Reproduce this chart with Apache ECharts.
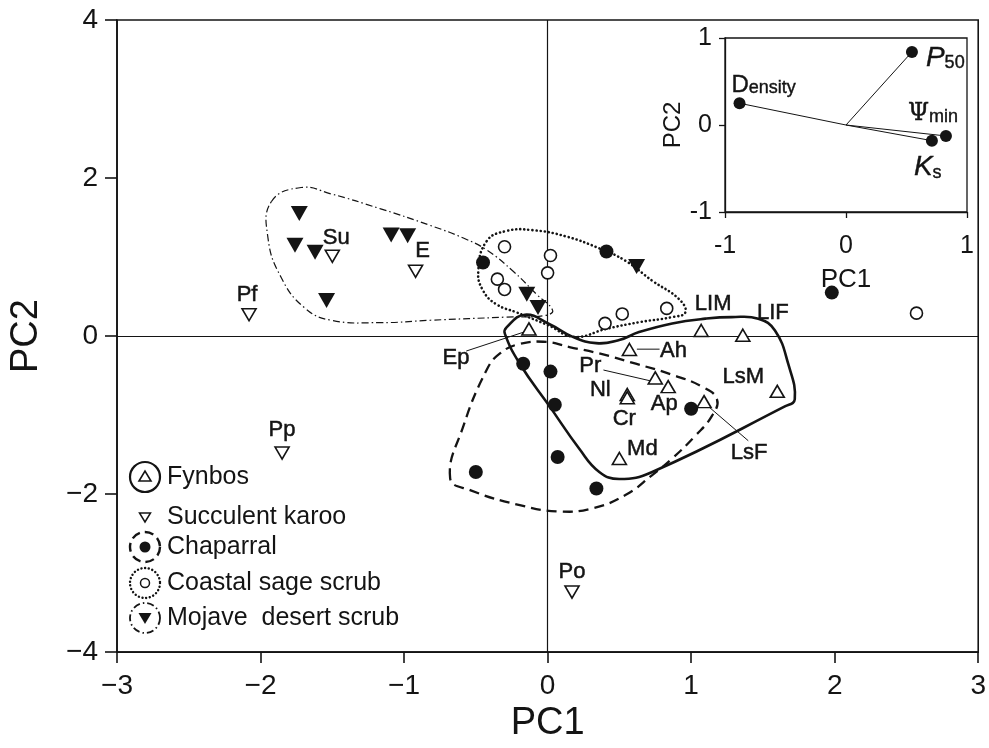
<!DOCTYPE html>
<html><head><meta charset="utf-8">
<script src="https://cdn.jsdelivr.net/npm/echarts@6/dist/echarts.min.js"></script>
<style>html,body{margin:0;padding:0;background:#fff}#c{width:989px;height:748px}</style>
</head><body><div id="c"></div>
<script>
// ---------- DATA ----------
const fynbosNames = ['Ep','Ah','LIM','LIF','Pr','Ap','Nl','Cr','LsM','LsF','Md'];
const fynbosX = [-0.13, 0.57, 1.07, 1.36, 0.75, 0.84, 0.555, 0.555, 1.60, 1.09, 0.50];
const fynbosY = [0.09, -0.17, 0.07, 0.01, -0.53, -0.64, -0.74, -0.78, -0.70, -0.83, -1.55];

const karooNames = ['Pf','Su','E','Pp','Po'];
const karooX = [-2.08, -1.50, -0.92, -1.85, 0.17];
const karooY = [0.27, 1.01, 0.82, -1.48, -3.24];

const chapX = [-0.45, 0.41, -0.17, 0.02, 0.05, 0.07, -0.50, 0.34, 1.00, 1.98];
const chapY = [0.93, 1.07, -0.35, -0.45, -0.87, -1.53, -1.72, -1.93, -0.92, 0.55];

const coastX = [-0.30, 0.02, 0.00, -0.35, -0.30, 0.40, 0.52, 0.83, 2.57];
const coastY = [1.13, 1.02, 0.80, 0.72, 0.59, 0.16, 0.28, 0.35, 0.29];

const mojX = [-1.73, -1.76, -1.62, -1.54, -1.09, -0.975, -0.145, -0.067, 0.62];
const mojY = [1.55, 1.15, 1.06, 0.45, 1.28, 1.27, 0.53, 0.36, 0.88];

// hull outlines (data units)
const hullFynbos = [[-0.286,0.11],[-0.159,0.27],[0.014,0.15],[0.175,-0.01],[0.337,-0.09],[0.499,-0.05],[0.637,0.05],[0.868,0.16],[1.099,0.22],[1.283,0.24],[1.468,0.22],[1.584,0.07],[1.676,-0.35],[1.722,-0.80],[1.653,-0.89],[0.729,-1.72],[0.499,-1.81],[0.36,-1.72],[0.222,-1.43],[0.014,-0.89],[-0.194,-0.35],[-0.298,0.03]];
const hullChap = [[-0.679,-1.80],[-0.587,-1.14],[-0.425,-0.43],[-0.332,-0.22],[-0.194,-0.10],[-0.009,-0.075],[0.152,-0.14],[0.36,-0.22],[0.614,-0.35],[0.868,-0.49],[1.075,-0.64],[1.18,-0.80],[1.145,-1.01],[1.03,-1.26],[0.868,-1.55],[0.729,-1.76],[0.545,-2.01],[0.314,-2.18],[0.083,-2.22],[-0.194,-2.14],[-0.54,-1.95]];
const hullCoast = [[-0.425,1.20],[-0.286,1.33],[-0.102,1.34],[0.13,1.26],[0.36,1.11],[0.545,0.95],[0.729,0.70],[0.914,0.47],[0.96,0.30],[0.868,0.24],[0.637,0.175],[0.407,0.09],[0.187,-0.01],[0.0,0.14],[-0.217,0.30],[-0.355,0.40],[-0.448,0.57],[-0.483,0.82]];
const hullMoj = [[-1.925,1.70],[-1.717,1.88],[-1.51,1.80],[-1.163,1.61],[-0.817,1.40],[-0.587,1.24],[-0.425,1.09],[-0.24,0.82],[-0.078,0.53],[0.035,0.325],[-0.02,0.26],[-0.286,0.24],[-0.817,0.20],[-1.163,0.17],[-1.51,0.20],[-1.695,0.36],[-1.856,0.74],[-1.948,1.24]];

// label leader lines (data units)
const leaders = [
  [[-0.567,-0.19],[-0.166,0.05]],
  [[0.622,-0.166],[0.78,-0.166]],
  [[0.389,-0.43],[0.735,-0.575]],
  [[1.104,-0.866],[1.398,-1.325]]
];

// inset loadings
const loadNames = ['Density','P50','Psimin','Ks'];
const loadX = [-0.88, 0.545, 0.826, 0.71];
const loadY = [0.25, 0.84, -0.126, -0.18];

const xTicks = [-3,-2,-1,0,1,2,3];
const yTicks = [-4,-2,0,2,4];

// ---------- STYLE ----------
const INK = '#141414';
const FONT = '"Liberation Sans", Arial, Helvetica, sans-serif';
const labelOffset = {
  Ep:[-73,29], Ah:[44,1], LIM:[12,-27], LIF:[30,-22], Pr:[-65,-12], Ap:[-4,17],
  Nl:[-27,-5], Cr:[-3,21], LsM:[-34,-14], LsF:[45,51], Md:[23,-10],
  Pf:[-2,-20], Su:[4,-18], E:[7,-20], Pp:[0,-23], Po:[0,-20]
};
const minus = v => (v < 0 ? '\u2212' + Math.abs(v) : String(v));

function labeled(xs, ys, names) {
  return xs.map((x, i) => ({
    value: [x, ys[i]],
    label: { show: true, position: 'inside', formatter: names[i], offset: labelOffset[names[i]],
      fontSize: 22, color: INK, fontFamily: FONT, textBorderWidth: 0.5, textBorderColor: INK, opacity: 1 }
  }));
}
const pts = (xs, ys) => xs.map((x, i) => [x, ys[i]]);

function hullSeries(hull, dash, width, cap) {
  return {
    type: 'custom', xAxisIndex: 0, yAxisIndex: 0, silent: true, z: 1,
    data: hull,
    renderItem: function (params, api) {
      if (params.dataIndex !== 0) return null;
      const p = hull.map(h => api.coord(h));
      return { type: 'polygon', shape: { points: p, smooth: 0.45 },
        style: { fill: 'none', stroke: INK, lineWidth: width, lineDash: dash, lineCap: cap || 'butt' } };
    }
  };
}

const tb = { textBorderColor: INK, textBorderWidth: 0.4 };
const insetRich = {
  D: Object.assign({ fontSize: 24, fontFamily: FONT, color: INK, verticalAlign: 'bottom', lineHeight: 24 }, tb),
  ens: Object.assign({ fontSize: 18, fontFamily: FONT, color: INK, verticalAlign: 'bottom', lineHeight: 20 }, tb),
  big: Object.assign({ fontSize: 28, fontFamily: FONT, color: INK, fontStyle: 'italic', verticalAlign: 'top', lineHeight: 28 }, tb),
  psi: Object.assign({ fontSize: 24, fontFamily: '"DejaVu Serif", serif', color: INK, verticalAlign: 'top', lineHeight: 24 }, tb),
  sub: Object.assign({ fontSize: 18, fontFamily: FONT, color: INK, verticalAlign: 'bottom', lineHeight: 18, padding: [14, 0, 0, 0] }, tb)
};
const insetLabel = {
  Density: { f: '{D|D}{ens|ensity}', pos: [-2, -12] },
  P50: { f: '{big|P}{sub|50}', pos: [20, 12] },
  Psimin: { f: '{psi|\u03A8}{sub|min}', pos: [-32, -16] },
  Ks: { f: '{big|K}{sub|s}', pos: [-12, 33] }
};

const openStyle = { color: '#fff', borderColor: INK, borderWidth: 1.6, opacity: 1 };
const fillStyle = { color: INK, opacity: 1 };

const series = [
  hullSeries(hullMoj, [7, 3, 1.5, 3], 1.2),
  hullSeries(hullCoast, [0.1, 4], 2.6, 'round'),
  hullSeries(hullChap, [10, 6], 2.3),
  hullSeries(hullFynbos, null, 2.6),
  {
    type: 'scatter', name: 'Fynbos', xAxisIndex: 0, yAxisIndex: 0, z: 5,
    symbol: 'triangle', symbolSize: [14, 12], itemStyle: openStyle,
    data: labeled(fynbosX, fynbosY, fynbosNames),
    markLine: { silent: true, symbol: 'none', animation: false,
      lineStyle: { color: INK, width: 1.2, type: 'solid', opacity: 1 }, label: { show: false },
      data: [{ xAxis: 0 }, { yAxis: 0 }] }
  },
  {
    type: 'scatter', name: 'Succulent karoo', xAxisIndex: 0, yAxisIndex: 0, z: 5,
    symbol: 'triangle', symbolSize: [14, 12], symbolRotate: 180, itemStyle: openStyle,
    data: labeled(karooX, karooY, karooNames)
  },
  {
    type: 'scatter', name: 'Chaparral', xAxisIndex: 0, yAxisIndex: 0, z: 5,
    symbol: 'circle', symbolSize: 14, itemStyle: fillStyle,
    data: pts(chapX, chapY)
  },
  {
    type: 'scatter', name: 'Coastal sage scrub', xAxisIndex: 0, yAxisIndex: 0, z: 5,
    symbol: 'circle', symbolSize: 12, itemStyle: openStyle,
    data: pts(coastX, coastY)
  },
  {
    type: 'scatter', name: 'Mojave desert scrub', xAxisIndex: 0, yAxisIndex: 0, z: 5,
    symbol: 'triangle', symbolSize: [17, 15], symbolRotate: 180, itemStyle: fillStyle,
    data: pts(mojX, mojY)
  }
];
leaders.forEach(l => series.push({
  type: 'line', xAxisIndex: 0, yAxisIndex: 0, data: l, symbol: 'none', silent: true, z: 4,
  lineStyle: { color: INK, width: 1, opacity: 1 }
}));
// inset vectors
loadX.forEach((x, i) => series.push({
  type: 'line', xAxisIndex: 1, yAxisIndex: 1, data: [[0, 0], [x, loadY[i]]], symbol: 'none', silent: true,
  lineStyle: { color: INK, width: 1, opacity: 1 }
}));
series.push({
  type: 'scatter', xAxisIndex: 1, yAxisIndex: 1, symbol: 'circle', symbolSize: 12, itemStyle: fillStyle, z: 6,
  data: loadX.map((x, i) => ({
    value: [x, loadY[i]],
    label: { show: true, position: insetLabel[loadNames[i]].pos, align: 'left', verticalAlign: 'middle',
      formatter: insetLabel[loadNames[i]].f, rich: insetRich, opacity: 1 }
  }))
});

const axisCommon = {
  axisLine: { onZero: false, lineStyle: { color: INK, width: 1.6 } },
  axisTick: { inside: false, lineStyle: { color: INK, width: 1.6 } },
  splitLine: { show: false },
  nameTextStyle: { color: INK, fontFamily: FONT }
};

// legend graphics
const LX = 145, rows = [477, 517, 547, 583, 618];
const legendNames = ['Fynbos', 'Succulent karoo', 'Chaparral', 'Coastal sage scrub', 'Mojave  desert scrub'];
const graphic = [];
const ring = (cy, dash, w, cap) => ({ type: 'circle', shape: { cx: LX, cy: cy, r: 15 },
  style: { fill: 'none', stroke: INK, lineWidth: w, lineDash: dash, lineCap: cap || 'butt' } });
graphic.push(ring(rows[0], null, 2.2));
graphic.push({ type: 'polygon', shape: { points: [[LX - 6, rows[0] + 4], [LX + 6, rows[0] + 4], [LX, rows[0] - 6]] },
  style: { fill: '#fff', stroke: INK, lineWidth: 1.6 } });
graphic.push({ type: 'polygon', shape: { points: [[LX - 5.5, rows[1] - 4], [LX + 5.5, rows[1] - 4], [LX, rows[1] + 5]] },
  style: { fill: '#fff', stroke: INK, lineWidth: 1.5 } });
graphic.push(ring(rows[2], [9, 5], 2.4));
graphic.push({ type: 'circle', shape: { cx: LX, cy: rows[2], r: 5.5 }, style: { fill: INK } });
graphic.push(ring(rows[3], [0.1, 3.6], 2.4, 'round'));
graphic.push({ type: 'circle', shape: { cx: LX, cy: rows[3], r: 4.5 }, style: { fill: '#fff', stroke: INK, lineWidth: 1.5 } });
graphic.push(ring(rows[4], [7, 3, 1.5, 3], 1.8));
graphic.push({ type: 'polygon', shape: { points: [[LX - 6.5, rows[4] - 5], [LX + 6.5, rows[4] - 5], [LX, rows[4] + 6]] },
  style: { fill: INK } });
legendNames.forEach((n, i) => graphic.push({
  type: 'text', x: 167, y: rows[i], z: 10,
  style: { text: n, fontSize: 25, fontFamily: FONT, fill: INK, verticalAlign: 'middle', align: 'left' }
}));

const option = {
  animation: false,
  backgroundColor: '#fff',
  graphic: graphic,
  grid: [
    { left: 113, top: 20, width: 868, height: 639, show: true, borderColor: INK, borderWidth: 1.6, backgroundColor: 'transparent' },
    { left: 725, top: 38, width: 242, height: 174, show: true, borderColor: INK, borderWidth: 1.3, backgroundColor: 'transparent' }
  ],
  xAxis: [
    Object.assign({}, axisCommon, { type: 'value', gridIndex: 0, min: -3, max: 3, interval: 1,
      axisTick: { inside: false, length: 11, lineStyle: { color: INK, width: 1.6 } },
      axisLabel: { margin: 20, fontSize: 28, color: INK, fontFamily: FONT, formatter: minus },
      name: 'PC1', nameLocation: 'middle', nameGap: 45,
      nameTextStyle: { fontSize: 38, color: INK, fontFamily: FONT } }),
    Object.assign({}, axisCommon, { type: 'value', gridIndex: 1, min: -1, max: 1, interval: 1,
      axisLine: { onZero: false, lineStyle: { color: INK, width: 1.3 } },
      axisTick: { inside: false, length: 6, lineStyle: { color: INK, width: 1.3 } },
      axisLabel: { margin: 22, fontSize: 25, color: INK, fontFamily: FONT },
      name: 'PC1', nameLocation: 'middle', nameGap: 55,
      nameTextStyle: { fontSize: 26, color: INK, fontFamily: FONT } })
  ],
  yAxis: [
    Object.assign({}, axisCommon, { type: 'value', gridIndex: 0, min: -4, max: 4, interval: 2,
      axisTick: { inside: false, length: 12, lineStyle: { color: INK, width: 1.6 } },
      axisLabel: { margin: 19, fontSize: 28, color: INK, fontFamily: FONT, formatter: minus },
      name: 'PC2', nameLocation: 'middle', nameGap: 71, nameRotate: 90,
      nameTextStyle: { fontSize: 38, color: INK, fontFamily: FONT } }),
    Object.assign({}, axisCommon, { type: 'value', gridIndex: 1, min: -1, max: 1, interval: 1,
      axisLine: { onZero: false, lineStyle: { color: INK, width: 1.3 } },
      axisTick: { inside: false, length: 6, lineStyle: { color: INK, width: 1.3 } },
      axisLabel: { margin: 13, fontSize: 25, color: INK, fontFamily: FONT },
      name: 'PC2', nameLocation: 'middle', nameGap: 38, nameRotate: 90,
      nameTextStyle: { fontSize: 24, color: INK, fontFamily: FONT } })
  ],
  series: series
};
const chart = echarts.init(document.getElementById('c'), null, { renderer: 'canvas' });
chart.setOption(option);
</script>
</body></html>
